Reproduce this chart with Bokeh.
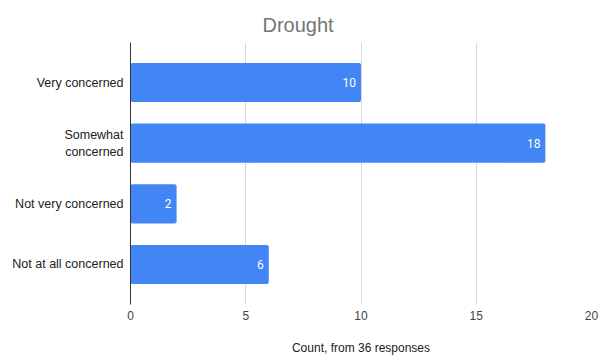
from bokeh.plotting import figure
from bokeh.models import ColumnDataSource, FactorRange, LabelSet, Range1d, FixedTicker
from bokeh.core.properties import value
from bokeh.embed import file_html
from bokeh.resources import INLINE

# Survey answers and their counts (36 responses)
categories = ["Very concerned", "Somewhat concerned", "Not very concerned", "Not at all concerned"]
counts = [10, 18, 2, 6]
x_ticks = [0, 5, 10, 15, 20]

# Axis text for each answer; the long one wraps onto two lines
display_names = {"Somewhat concerned": "Somewhat\nconcerned"}
factors = [display_names.get(c, c) for c in categories]

source = ColumnDataSource(dict(
    cat=factors,
    count=counts,
    label=[str(c) for c in counts],
))

p = figure(
    width=604, height=360,
    y_range=FactorRange(factors=factors[::-1], range_padding=0.08),
    x_range=Range1d(0, 20),
    output_backend="svg", toolbar_location=None,
    min_border_left=130, min_border_right=13,
    min_border_top=42, min_border_bottom=56,
)
p.outline_line_color = None
p.background_fill_color = "white"
p.border_fill_color = "white"

p.hbar(y="cat", right="count", left=0, height=0.645, source=source,
       fill_color="#4285F4", line_color=None, border_radius=2)

labels = LabelSet(x="count", y="cat", text="label", source=source,
                  x_offset=-5, text_align="right", text_baseline="middle",
                  text_color="white", text_font_size="12px", text_font=value("Roboto"))
p.add_layout(labels)

# Title
p.title.text = "Drought"
p.title.align = "left"
p.title.offset = 132
p.title.vertical_align = "top"
p.title.text_font = "Liberation Sans"
p.title.text_font_size = "20px"
p.title.text_font_style = "normal"
p.title.text_color = "#757575"
p.title.standoff = 10

# X axis
p.xaxis.ticker = FixedTicker(ticks=x_ticks)
p.xaxis.axis_line_color = None
p.xaxis.major_tick_line_color = None
p.xaxis.major_tick_out = 0
p.xaxis.minor_tick_line_color = None
p.xaxis.major_label_text_font = "Liberation Sans"
p.xaxis.major_label_text_font_size = "12px"
p.xaxis.major_label_text_color = "#444444"
p.xaxis.major_label_standoff = 6
p.xaxis.axis_label = "Count, from 36 responses"
p.xaxis.axis_label_text_font = "Liberation Sans"
p.xaxis.axis_label_text_font_size = "12px"
p.xaxis.axis_label_text_font_style = "normal"
p.xaxis.axis_label_text_color = "#222222"
p.xaxis.axis_label_standoff = 18

# Y axis
p.yaxis.axis_line_color = "#333333"
p.yaxis.axis_line_width = 1
p.yaxis.major_tick_line_color = None
p.yaxis.major_tick_out = 0
p.yaxis.minor_tick_line_color = None
p.yaxis.major_label_text_font = "Liberation Sans"
p.yaxis.major_label_text_font_size = "12.5px"
p.yaxis.major_label_text_color = "#222222"
p.yaxis.major_label_standoff = 7

# Grid
p.xgrid.grid_line_color = "#d9d9d9"
p.xgrid.grid_line_width = 1
p.ygrid.grid_line_color = None

open("out.html", "w").write(file_html(p, INLINE))
